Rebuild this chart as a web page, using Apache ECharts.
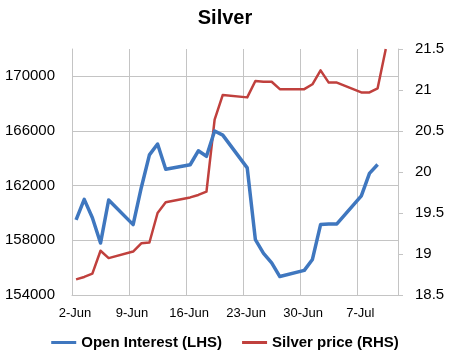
<!DOCTYPE html>
<html>
<head>
<meta charset="utf-8">
<script src="https://cdn.jsdelivr.net/npm/echarts@6/dist/echarts.min.js"></script>
<style>html,body{margin:0;padding:0;background:#fff}#c{width:450px;height:360px}</style>
</head>
<body>
<div id="c"></div>
<script>
var title = 'Silver';
var seriesNames = ['Open Interest (LHS)', 'Silver price (RHS)'];
var dates = ['2014-06-02','2014-06-03','2014-06-04','2014-06-05','2014-06-06',
  '2014-06-09','2014-06-10','2014-06-11','2014-06-12','2014-06-13',
  '2014-06-16','2014-06-17','2014-06-18','2014-06-19','2014-06-20',
  '2014-06-23','2014-06-24','2014-06-25','2014-06-26','2014-06-27',
  '2014-06-30','2014-07-01','2014-07-02','2014-07-03','2014-07-04',
  '2014-07-07','2014-07-08','2014-07-09','2014-07-10'];
var openInterest = [159500,161000,159650,157800,160950,
  159150,161850,164250,165050,163200,
  163530,164550,164150,166000,165700,
  163300,158050,157050,156350,155350,
  155800,156600,159150,159200,159200,
  161250,162900,163550,null];
var silverPrice = [18.69,18.72,18.76,19.04,18.95,
  19.03,19.13,19.14,19.50,19.63,
  19.69,19.72,19.76,20.64,20.94,
  20.91,21.11,21.10,21.10,21.01,
  21.01,21.07,21.24,21.09,21.09,
  20.97,20.97,21.02,21.50];
var xTickLabels = ['2-Jun','9-Jun','16-Jun','23-Jun','30-Jun','7-Jul'];

var base = Date.parse('2014-06-02T00:00:00Z');
function dayPos(d){ return (Date.parse(d + 'T00:00:00Z') - base) / 86400000 + 0.5; }
function pairs(vals){
  var out = [];
  for (var i = 0; i < dates.length; i++) if (vals[i] != null) out.push([dayPos(dates[i]), vals[i]]);
  return out;
}

var FONT = 'Liberation Sans';
var GRID = '#c4c4c4';
var chart = echarts.init(document.getElementById('c'), null, {renderer: 'canvas'});
chart.setOption({
  animation: false,
  backgroundColor: '#fff',
  title: {
    text: title, left: 'center', top: 3,
    textStyle: {fontFamily: FONT, fontSize: 20, fontWeight: 'bold', color: '#000'}
  },
  legend: {
    bottom: 5, left: 'center',
    itemWidth: 25, itemHeight: 3, itemGap: 20, icon: 'rect',
    textStyle: {fontFamily: FONT, fontSize: 15, fontWeight: 'bold', color: '#000'},
    data: seriesNames
  },
  grid: {left: 72, right: 52, top: 49, bottom: 65, containLabel: false},
  xAxis: {
    type: 'value', min: 0, max: 40, interval: 7,
    axisLine: {show: true, lineStyle: {color: GRID, width: 1}},
    axisTick: {show: false},
    splitLine: {show: true, lineStyle: {color: GRID, width: 1}},
    axisLabel: {
      margin: 12, color: '#000', fontFamily: FONT, fontSize: 13,
      padding: [0, 0, 0, 6],
      showMaxLabel: false,
      formatter: function(v){ var i = Math.round(v / 7); return (v % 7 === 0 && xTickLabels[i]) ? xTickLabels[i] : ''; }
    }
  },
  yAxis: [{
    type: 'value', position: 'left', min: 154000, max: 172000, interval: 4000,
    axisLine: {show: true, lineStyle: {color: GRID, width: 1}},
    axisTick: {show: false},
    splitLine: {show: true, showMaxLine: false, lineStyle: {color: GRID, width: 1}},
    axisLabel: {
      margin: 17, color: '#000', fontFamily: FONT, fontSize: 15,
      formatter: function(v){ return v >= 172000 ? '' : String(v); }
    }
  }, {
    type: 'value', position: 'right', min: 18.5, max: 21.5, interval: 0.5,
    axisLine: {show: true, lineStyle: {color: GRID, width: 1}},
    axisTick: {show: true, inside: false, length: 5, lineStyle: {color: GRID}},
    splitLine: {show: false},
    axisLabel: {margin: 17, color: '#000', fontFamily: FONT, fontSize: 15}
  }],
  series: [{
    name: seriesNames[0], type: 'line', yAxisIndex: 0,
    data: pairs(openInterest), showSymbol: false, symbol: 'none',
    lineStyle: {color: '#3F77BF', width: 3.5, join: 'round'},
    itemStyle: {color: '#3F77BF'}, z: 3
  }, {
    name: seriesNames[1], type: 'line', yAxisIndex: 1,
    data: pairs(silverPrice), showSymbol: false, symbol: 'none',
    lineStyle: {color: '#C0403D', width: 2.5, join: 'round'},
    itemStyle: {color: '#C0403D'}, z: 2
  }]
});
</script>
</body>
</html>
